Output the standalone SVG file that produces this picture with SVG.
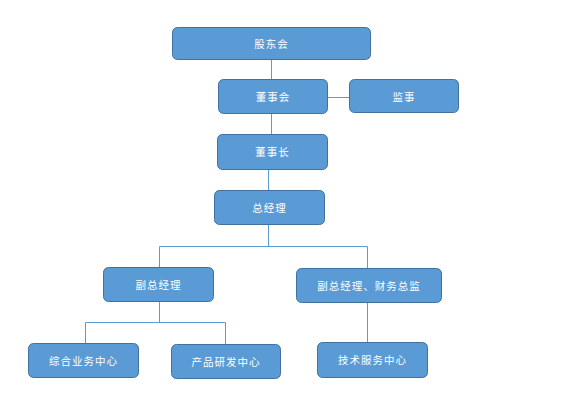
<svg xmlns="http://www.w3.org/2000/svg" width="566" height="401" viewBox="0 0 566 401">
<style>
.n rect{fill:#5b9bd5;stroke:#41719c;stroke-width:1}
.n text{fill:#fff;font-family:"Liberation Sans","Noto Sans CJK SC",sans-serif;font-size:10.5px;text-anchor:middle;dominant-baseline:central;letter-spacing:1px}
.c{fill:none;stroke:#5b9bd5;stroke-width:1}
</style>
<rect width="566" height="401" fill="#fff"/>
<g id="connectors" class="c">
<path d="M271.5 59V79"/>
<path d="M327 97.5H349"/>
<path d="M271.5 113V134"/>
<path d="M268.5 169V190"/>
<path d="M268.5 224V246.5M159.5 267V246.5H367.5V268"/>
<path d="M159.5 301V322.5M85.5 343V322.5H225.5V344"/>
<path d="M367.5 302V342"/>
</g>
<g id="n1" class="n"><rect x="172.5" y="27.5" width="198" height="32" rx="5"/><text x="271.5" y="44">股东会</text></g>
<g id="n2" class="n"><rect x="218.5" y="79.5" width="109" height="34" rx="5"/><text x="273" y="97">董事会</text></g>
<g id="n3" class="n"><rect x="349.5" y="79.5" width="109" height="33" rx="5"/><text x="404" y="97">监事</text></g>
<g id="n4" class="n"><rect x="217.5" y="134.5" width="110" height="35" rx="5"/><text x="272.5" y="152">董事长</text></g>
<g id="n5" class="n"><rect x="214.5" y="190.5" width="110" height="34" rx="5"/><text x="269.5" y="208">总经理</text></g>
<g id="n6" class="n"><rect x="103.5" y="267.5" width="110" height="34" rx="5"/><text x="158.5" y="285">副总经理</text></g>
<g id="n7" class="n"><rect x="296.5" y="268.5" width="145" height="34" rx="5"/><text x="369" y="286">副总经理、财务总监</text></g>
<g id="n8" class="n"><rect x="28.5" y="343.5" width="110" height="34" rx="5"/><text x="83.5" y="361">综合业务中心</text></g>
<g id="n9" class="n"><rect x="171.5" y="344.5" width="109" height="34" rx="5"/><text x="226" y="362">产品研发中心</text></g>
<g id="n10" class="n"><rect x="317.5" y="342.5" width="110" height="35" rx="5"/><text x="372.5" y="360">技术服务中心</text></g>
</svg>
